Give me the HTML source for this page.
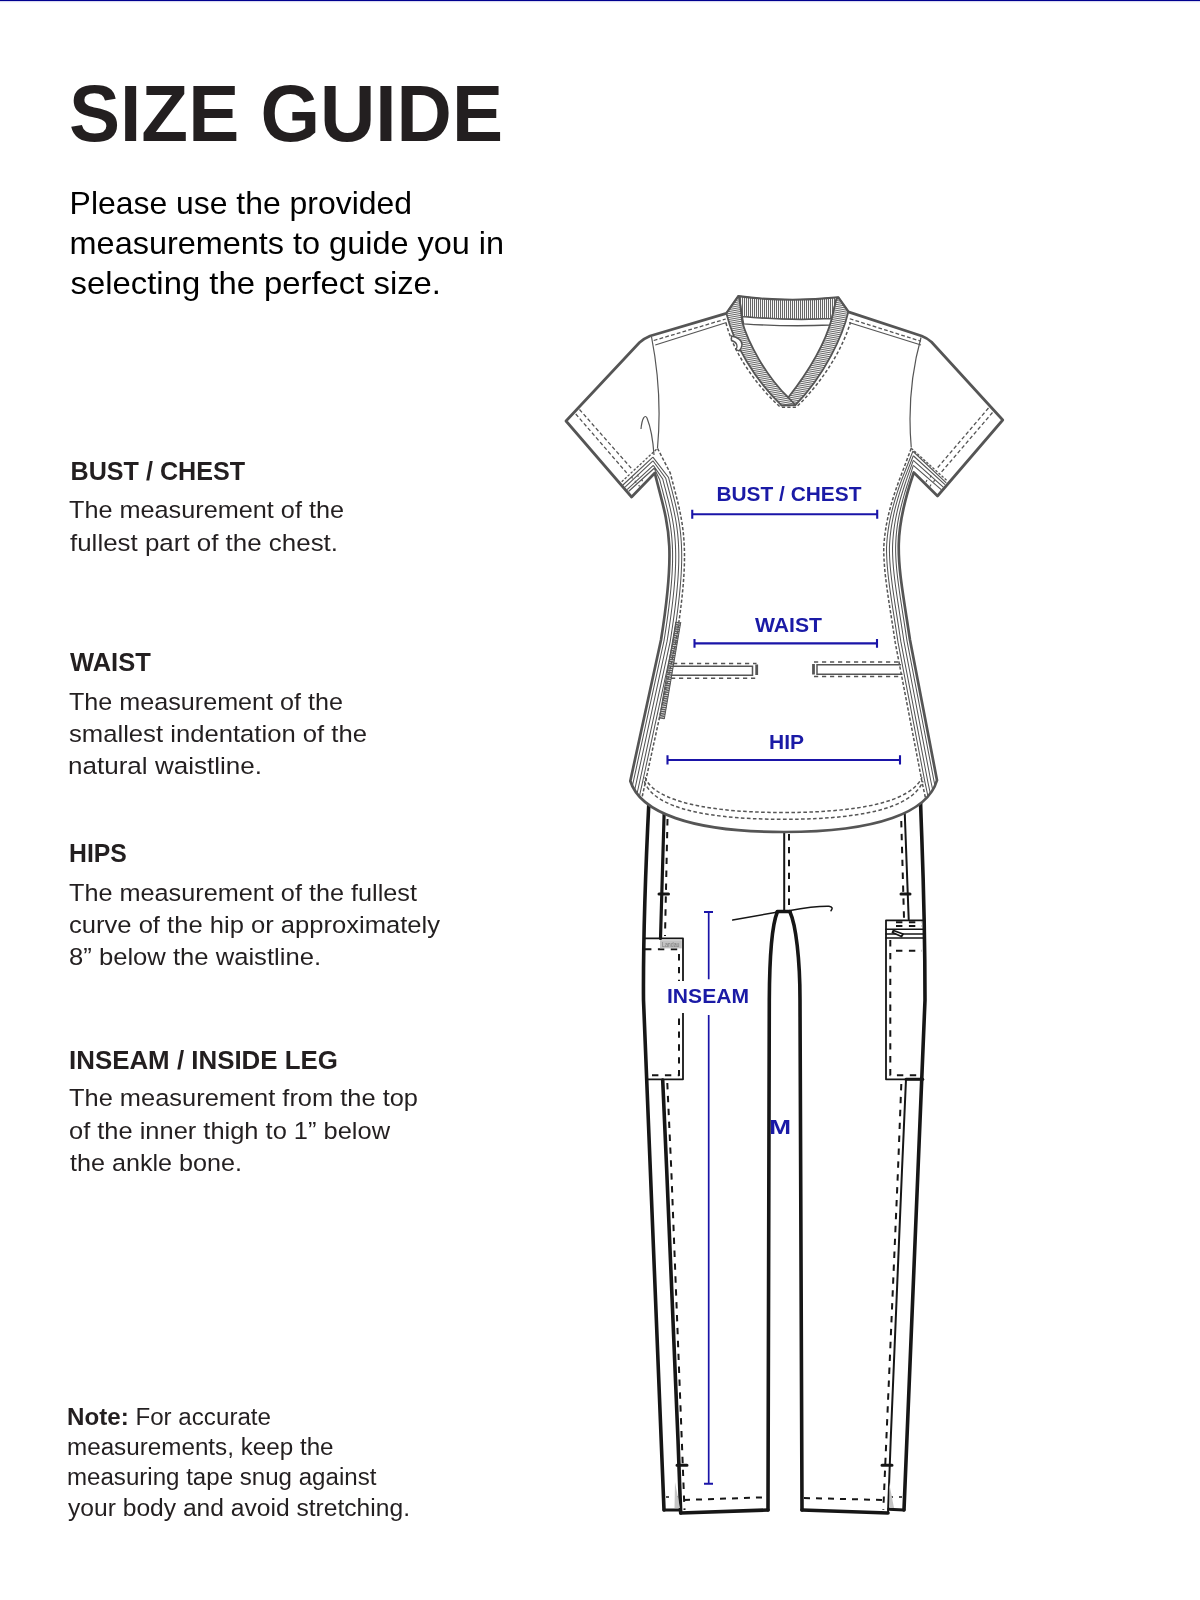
<!DOCTYPE html>
<html><head><meta charset="utf-8"><style>
html,body{margin:0;padding:0;background:#fff;}
body{width:1200px;height:1600px;overflow:hidden;position:relative;}
svg{position:absolute;left:0;top:0;will-change:transform;}
text{font-family:"Liberation Sans", sans-serif;}
</style></head><body>
<svg width="1200" height="1600" viewBox="0 0 1200 1600">
<rect x="0" y="0" width="1200" height="1.2" fill="#00008f"/>
<rect x="0" y="1.2" width="1200" height="1" fill="#dcdcf2"/>
<g fill="none" stroke="#161616" stroke-linecap="round" stroke-linejoin="round">
<path d="M649,800 C646,860 643,930 643.5,1000 L664,1510" stroke-width="3.6"/>
<path d="M664.5,800 L660.5,938.5" stroke-width="3.2"/>
<path d="M662.7,1080 L666.7,1170 L678,1440 L680.7,1513" stroke-width="3.6"/>
<path d="M667.5,819 L665,936" stroke-width="2" stroke-dasharray="6.4,6.5" stroke-linecap="butt"/>
<path d="M667.3,1083 L671.3,1170 L684.5,1510" stroke-width="2" stroke-dasharray="6.4,6.5" stroke-linecap="butt"/>
<path d="M644,938.4 L683,938.4 L683,1079.3 L647.3,1079.3" stroke-width="1.8"/>
<path d="M645,949.3 L679,949.3 L679,1075.3 L648,1075.3" stroke-width="2" stroke-dasharray="6.4,6.5" stroke-linecap="butt"/>
<path d="M659,894 L668.5,894 M677,1465.3 L687,1465.3 M901,894 L910,894 M882,1465.3 L892,1465.3" stroke-width="3"/>
<path d="M664,1510 L680,1510" stroke-width="3"/>
<path d="M680.7,1513 L768,1510" stroke-width="3.6"/>
<path d="M684,1500 L765,1497.3" stroke-width="2" stroke-dasharray="6,6" stroke-linecap="butt"/>
<path d="M666,1497 L678,1497" stroke-width="1.6" stroke-dasharray="3,6" stroke-linecap="butt"/>
<path d="M777.3,912 C772,925 769.5,960 769.3,1000 L768,1510" stroke-width="3.6"/>
<path d="M790,912 C796,925 800,960 800,1000 L802,1510" stroke-width="3.6"/>
<path d="M777.3,911.5 L790,911.5" stroke-width="3.6"/>
<path d="M732.7,920 L778,912 L788.7,910.7 Q815,906 829,906.3 Q834,907 831,910.7" stroke-width="1.5"/>
<path d="M784.2,830 L784.2,911" stroke-width="2"/>
<path d="M789,834 L789,909" stroke-width="2" stroke-dasharray="6.4,6.5" stroke-linecap="butt"/>
<path d="M920.5,800 C922,850 925,900 925,1000 L904,1510" stroke-width="3.6"/>
<path d="M904.7,812 L908.7,919.3" stroke-width="2"/>
<path d="M906,1079.3 L902,1170 L890.7,1440 L888,1513" stroke-width="2"/>
<path d="M901.25,821 L904,918" stroke-width="2" stroke-dasharray="6.4,6.5" stroke-linecap="butt"/>
<path d="M901.3,1084 L898,1170 L883.3,1510" stroke-width="2" stroke-dasharray="6.4,6.5" stroke-linecap="butt"/>
<path d="M924,920.3 L886,920.3 L886,1079.3 L923,1079.3" stroke-width="1.8"/>
<path d="M886,929.3 L924,929.3 M886,934 L924,934 M886,938 L924,938" stroke-width="1.6"/>
<path d="M896,922.2 L922,922.2 M896,926 L922,926 M896,950.7 L922,950.7 M890.3,940 L890.3,1075.3 L920,1075.3" stroke-width="2" stroke-dasharray="6.4,6.5" stroke-linecap="butt"/>
<path d="M893.5,930.5 L903,934 L901.5,936.5 L892.5,932.5 Z" fill="#fff" stroke-width="1.8"/>
<path d="M906,1079.3 L922.7,1079.3" stroke-width="3"/>
<path d="M802,1510 L888,1513" stroke-width="3.6"/>
<path d="M888.7,1509.3 L904,1510" stroke-width="3"/>
<path d="M804,1498 L885,1500" stroke-width="2" stroke-dasharray="6,6" stroke-linecap="butt"/>
<path d="M890,1497 L903,1497" stroke-width="1.6" stroke-dasharray="3,6" stroke-linecap="butt"/>
</g>
<rect x="660" y="940.2" width="21.8" height="8.2" fill="#c2c2c2"/><text x="662" y="947" font-size="6.5" fill="#777" textLength="17.5" lengthAdjust="spacingAndGlyphs">Landau</text>
<path d="M675,1482 L680,1508 L674.5,1508 Z M889,1482 L890,1508 L894,1508 Z" fill="#c4c4c4"/>
<defs><clipPath id="shc"><path d="M726.4,313.4 L650,336 Q644,338.5 639.5,342.5 L566,421 L631.6,497 L654.8,473 C667.8,525 677,540 661,640 L630.3,781 C640,812 690,832 784,832 C878,832 928,812 937,780.25 L910,640 C898,560 890.75,540 913.75,472.5 L937.5,496 L1002.75,420 L931.5,342 Q927,338 921.75,336 L848.3,311.9 L838.2,297.5 Q788,303 738.3,296.4 Z"/></clipPath>
<pattern id="ribV" width="2" height="10" patternUnits="userSpaceOnUse"><rect width="2" height="10" fill="#fff"/><rect width="1.05" height="10" fill="#666"/></pattern>
<pattern id="ribL" width="10" height="1.95" patternUnits="userSpaceOnUse" patternTransform="rotate(-10)"><rect width="10" height="1.95" fill="#fff"/><rect width="10" height="1.0" fill="#666"/></pattern>
<pattern id="ribR" width="10" height="1.95" patternUnits="userSpaceOnUse" patternTransform="rotate(10)"><rect width="10" height="1.95" fill="#fff"/><rect width="10" height="1.0" fill="#666"/></pattern>
</defs>
<path d="M726.4,313.4 L650,336 Q644,338.5 639.5,342.5 L566,421 L631.6,497 L654.8,473 C667.8,525 677,540 661,640 L630.3,781 C640,812 690,832 784,832 C878,832 928,812 937,780.25 L910,640 C898,560 890.75,540 913.75,472.5 L937.5,496 L1002.75,420 L931.5,342 Q927,338 921.75,336 L848.3,311.9 L838.2,297.5 Q788,303 738.3,296.4 Z" fill="#fff" stroke="none"/>
<g clip-path="url(#shc)" fill="none" stroke="#555">
<path d="M657.50,448.30 L670.30,473.13 L671.24,476.79 L672.17,480.34 L673.07,483.81 L673.96,487.20 L674.84,490.53 L675.69,493.82 L676.52,497.07 L677.32,500.29 L678.10,503.51 L678.85,506.72 L679.56,509.95 L680.24,513.19 L680.88,516.46 L681.48,519.78 L682.03,523.14 L682.53,526.56 L682.98,530.04 L683.38,533.60 L683.72,537.24 L684.00,540.97 L684.22,544.79 L684.38,548.73 L684.47,552.78 L684.50,556.96 L684.45,561.27 L684.34,565.74 L684.16,570.36 L683.90,575.15 L683.57,580.12 L683.16,585.28 L682.68,590.65 L682.12,596.24 L681.47,602.05 L680.75,608.10 L679.94,614.40 L679.04,620.97 L678.05,627.81 L676.98,634.94 L675.72,642.90 L672.59,657.29 L669.52,671.39 L666.45,685.49 L663.38,699.59 L660.31,713.69 L657.24,727.79 L654.17,741.89 L651.10,755.99 L648.03,770.09 L644.95,784.22 L642.39,795.75 L639.84,807.25 L637.29,818.75 L634.74,830.25 L632.19,841.75 L629.64,853.25" stroke-width="1.5" stroke-dasharray="3.3,1.9"/>
<path d="M911.25,448.30 L901.59,474.01 L899.74,478.85 L898.00,483.55 L896.37,488.12 L894.85,492.58 L893.44,496.93 L892.13,501.18 L890.92,505.35 L889.81,509.44 L888.80,513.46 L887.88,517.43 L887.06,521.35 L886.32,525.23 L885.68,529.07 L885.12,532.89 L884.65,536.69 L884.26,540.48 L883.95,544.26 L883.72,548.05 L883.75,551.84 L883.86,555.64 L884.03,559.46 L884.27,563.30 L884.56,567.17 L884.92,571.09 L885.33,575.06 L885.78,579.09 L886.29,583.20 L886.84,587.39 L887.44,591.67 L888.07,596.06 L888.74,600.57 L889.45,605.21 L890.18,609.99 L890.95,614.92 L891.75,620.01 L892.57,625.27 L893.41,630.72 L894.28,636.37 L895.24,642.66 L897.97,656.86 L900.67,670.89 L903.37,684.91 L906.07,698.94 L908.77,712.96 L911.47,726.99 L914.17,741.01 L916.87,755.04 L919.57,769.06 L922.30,783.23 L924.84,795.03 L927.34,806.65 L929.84,818.28 L932.34,829.90 L934.84,841.53 L937.34,853.15" stroke-width="1.5" stroke-dasharray="3.3,1.9"/>
<path d="M654.20,468.30 L659.72,479.76 L660.65,483.34 L661.56,486.83 L662.45,490.22 L663.32,493.53 L664.16,496.78 L664.98,499.98 L665.76,503.13 L666.52,506.25 L667.24,509.36 L667.93,512.45 L668.57,515.55 L669.18,518.66 L669.75,521.80 L670.27,524.97 L670.74,528.19 L671.17,531.47 L671.54,534.81 L671.86,538.24 L672.13,541.75 L672.34,545.37 L672.49,549.10 L672.57,552.95 L672.60,556.93 L672.56,561.06 L672.45,565.35 L672.27,569.80 L672.02,574.43 L671.70,579.26 L671.31,584.28 L670.83,589.52 L670.28,594.98 L669.65,600.68 L668.94,606.63 L668.14,612.84 L667.25,619.31 L666.28,626.07 L665.22,633.13 L664.04,640.60 L660.96,654.76 L657.89,668.86 L654.82,682.96 L651.75,697.06 L648.68,711.16 L645.61,725.26 L642.54,739.36 L639.47,753.46 L636.40,767.56 L633.33,781.66 L630.78,793.17 L628.23,804.67 L625.68,816.17 L623.13,827.67 L620.58,839.17 L618.03,850.67 M653.30,465.40 L662.72,478.99 L663.65,482.56 L664.56,486.04 L665.45,489.43 L666.32,492.75 L667.17,496.01 L667.98,499.22 L668.78,502.39 L669.54,505.54 L670.26,508.67 L670.96,511.80 L671.61,514.93 L672.23,518.09 L672.80,521.27 L673.33,524.49 L673.81,527.77 L674.25,531.10 L674.63,534.50 L674.95,537.98 L675.22,541.55 L675.43,545.22 L675.58,549.00 L675.67,552.90 L675.70,556.94 L675.66,561.12 L675.55,565.45 L675.37,569.95 L675.12,574.62 L674.79,579.48 L674.39,584.54 L673.92,589.81 L673.36,595.31 L672.73,601.04 L672.01,607.01 L671.21,613.24 L670.32,619.74 L669.35,626.53 L668.28,633.60 L667.08,641.20 L663.99,655.42 L660.92,669.52 L657.85,683.62 L654.78,697.72 L651.71,711.82 L648.64,725.92 L645.57,740.02 L642.50,754.12 L639.43,768.22 L636.36,782.33 L633.80,793.84 L631.25,805.34 L628.70,816.84 L626.15,828.34 L623.60,839.84 L621.05,851.34 M652.90,460.80 L665.72,478.21 L666.65,481.78 L667.56,485.25 L668.45,488.65 L669.32,491.97 L670.17,495.24 L670.99,498.46 L671.79,501.65 L672.55,504.82 L673.29,507.98 L673.99,511.15 L674.65,514.32 L675.28,517.52 L675.86,520.75 L676.40,524.02 L676.89,527.34 L677.32,530.73 L677.71,534.18 L678.04,537.72 L678.32,541.34 L678.53,545.07 L678.68,548.90 L678.77,552.86 L678.80,556.95 L678.76,561.17 L678.64,565.55 L678.46,570.09 L678.21,574.81 L677.88,579.71 L677.48,584.80 L677.00,590.11 L676.45,595.64 L675.81,601.39 L675.09,607.39 L674.28,613.65 L673.39,620.18 L672.41,626.98 L671.34,634.07 L670.12,641.80 L667.02,656.08 L663.95,670.18 L660.88,684.28 L657.81,698.38 L654.74,712.48 L651.67,726.58 L648.60,740.68 L645.53,754.78 L642.46,768.88 L639.38,782.99 L636.83,794.51 L634.28,806.01 L631.73,817.51 L629.18,829.01 L626.63,840.51 L624.08,852.01 M652.90,457.10 L668.53,477.49 L669.46,481.05 L670.37,484.52 L671.26,487.91 L672.13,491.24 L672.98,494.52 L673.80,497.75 L674.60,500.96 L675.37,504.15 L676.11,507.34 L676.82,510.54 L677.49,513.74 L678.13,516.98 L678.72,520.25 L679.26,523.57 L679.76,526.94 L680.20,530.38 L680.60,533.88 L680.93,537.47 L681.21,541.15 L681.43,544.93 L681.58,548.81 L681.67,552.82 L681.70,556.95 L681.65,561.22 L681.54,565.64 L681.36,570.23 L681.11,574.98 L680.78,579.92 L680.37,585.05 L679.89,590.39 L679.33,595.94 L678.69,601.73 L677.97,607.75 L677.16,614.03 L676.27,620.58 L675.28,627.40 L674.21,634.51 L672.97,642.36 L669.85,656.70 L666.78,670.80 L663.71,684.90 L660.64,699.00 L657.57,713.10 L654.50,727.20 L651.43,741.30 L648.36,755.40 L645.29,769.50 L642.22,783.62 L639.66,795.14 L637.11,806.64 L634.56,818.14 L632.01,829.64 L629.46,841.14 L626.91,852.64 M913.30,465.40 L908.29,481.57 L906.79,486.23 L905.38,490.75 L904.09,495.13 L902.89,499.39 L901.80,503.54 L900.80,507.58 L899.90,511.53 L899.09,515.40 L898.37,519.19 L897.74,522.92 L897.20,526.59 L896.74,530.23 L896.36,533.82 L896.06,537.40 L895.84,540.95 L895.69,544.50 L895.62,548.06 L895.65,551.62 L895.75,555.20 L895.91,558.82 L896.14,562.47 L896.42,566.18 L896.76,569.94 L897.16,573.77 L897.60,577.69 L898.10,581.69 L898.64,585.79 L899.22,590.00 L899.84,594.34 L900.51,598.80 L901.21,603.41 L901.94,608.16 L902.71,613.08 L903.51,618.17 L904.33,623.44 L905.18,628.91 L906.04,634.58 L906.95,640.55 L909.66,654.61 L912.36,668.64 L915.06,682.66 L917.76,696.69 L920.46,710.71 L923.16,724.74 L925.86,738.76 L928.56,752.79 L931.26,766.81 L933.96,780.87 L936.47,792.53 L938.97,804.15 L941.47,815.78 L943.97,827.40 L946.47,839.03 L948.97,850.65 M913.30,460.40 L906.06,480.86 L904.50,485.53 L903.04,490.07 L901.68,494.47 L900.43,498.75 L899.28,502.92 L898.23,507.00 L897.27,510.98 L896.41,514.89 L895.64,518.73 L894.96,522.51 L894.37,526.24 L893.86,529.93 L893.43,533.58 L893.09,537.21 L892.82,540.83 L892.63,544.44 L892.52,548.05 L892.55,551.68 L892.65,555.32 L892.82,558.99 L893.05,562.69 L893.33,566.44 L893.68,570.24 L894.08,574.11 L894.52,578.05 L895.02,582.08 L895.56,586.21 L896.15,590.44 L896.78,594.79 L897.44,599.26 L898.14,603.88 L898.88,608.64 L899.65,613.56 L900.44,618.65 L901.26,623.92 L902.11,629.38 L902.98,635.04 L903.90,641.10 L906.61,655.20 L909.31,669.22 L912.01,683.25 L914.71,697.27 L917.41,711.30 L920.11,725.32 L922.81,739.35 L925.51,753.37 L928.21,767.40 L930.92,781.48 L933.44,793.18 L935.94,804.80 L938.44,816.43 L940.94,828.05 L943.44,839.68 L945.94,851.30 M913.30,455.80 L903.84,480.16 L902.21,484.84 L900.69,489.38 L899.28,493.80 L897.97,498.11 L896.76,502.31 L895.65,506.42 L894.64,510.44 L893.73,514.39 L892.91,518.27 L892.18,522.10 L891.53,525.88 L890.98,529.62 L890.51,533.34 L890.12,537.03 L889.81,540.71 L889.57,544.38 L889.42,548.05 L889.45,551.73 L889.55,555.43 L889.72,559.15 L889.95,562.90 L890.24,566.69 L890.59,570.54 L890.99,574.44 L891.45,578.42 L891.95,582.47 L892.49,586.62 L893.08,590.87 L893.71,595.24 L894.38,599.72 L895.08,604.35 L895.82,609.11 L896.58,614.04 L897.38,619.13 L898.20,624.40 L899.05,629.85 L899.92,635.51 L900.85,641.65 L903.57,655.78 L906.27,669.81 L908.97,683.83 L911.67,697.86 L914.37,711.88 L917.07,725.91 L919.77,739.93 L922.47,753.96 L925.17,767.98 L927.89,782.10 L930.41,793.83 L932.91,805.46 L935.41,817.08 L937.91,828.71 L940.41,840.33 L942.91,851.96 M912.90,451.25 L901.75,479.49 L900.07,484.18 L898.49,488.74 L897.03,493.18 L895.66,497.51 L894.40,501.74 L893.25,505.87 L892.18,509.93 L891.22,513.92 L890.35,517.84 L889.57,521.72 L888.88,525.55 L888.28,529.34 L887.77,533.11 L887.33,536.86 L886.98,540.59 L886.71,544.32 L886.52,548.05 L886.55,551.79 L886.66,555.54 L886.83,559.31 L887.06,563.10 L887.35,566.94 L887.71,570.82 L888.11,574.75 L888.57,578.76 L889.07,582.84 L889.62,587.01 L890.21,591.28 L890.84,595.66 L891.51,600.15 L892.21,604.78 L892.95,609.56 L893.72,614.48 L894.51,619.57 L895.34,624.84 L896.18,630.30 L897.05,635.95 L897.99,642.16 L900.72,656.33 L903.42,670.36 L906.12,684.38 L908.82,698.41 L911.52,712.43 L914.22,726.46 L916.92,740.48 L919.62,754.51 L922.32,768.53 L925.04,782.67 L927.57,794.44 L930.07,806.07 L932.57,817.69 L935.07,829.32 L937.57,840.94 L940.07,852.57" stroke-width="1.05"/>
<path d="M645,777.3 C652,796 690,812.5 784,812.5 C878,812.5 914,796 922,777.3" stroke-width="1.5" stroke-dasharray="3.6,2.4"/>
<path d="M644.3,781.3 C652,803 690,819.3 784,819.3 C878,819.3 914,803 923,781.3" stroke-width="1.5" stroke-dasharray="3.6,2.4"/>
<path d="M678.3,622 L661.8,719" stroke="#5c5c5c" stroke-width="5" stroke-dasharray="1.5,0.7"/>
<path d="M680.8,622 L664.3,719 M675.8,622 L659.3,719" stroke="#555" stroke-width="1"/>
</g>
<path d="M726.4,313.4 L650,336 Q644,338.5 639.5,342.5 L566,421 L631.6,497 L654.8,473 C667.8,525 677,540 661,640 L630.3,781 C640,812 690,832 784,832 C878,832 928,812 937,780.25 L910,640 C898,560 890.75,540 913.75,472.5 L937.5,496 L1002.75,420 L931.5,342 Q927,338 921.75,336 L848.3,311.9 L838.2,297.5 Q788,303 738.3,296.4 Z" fill="none" stroke="#555" stroke-width="2.7" stroke-linejoin="round"/>
<path d="M738.3,296.4 Q788,303 838.2,297.5 L836.1,300 L831.8,318.7 Q788,321 742.3,316.6 L739.4,298.6 Z" fill="url(#ribV)" stroke="#555" stroke-width="1.7" stroke-linejoin="round"/>
<path d="M742.3,316.6 Q788,321 831.8,318.7 L830.3,325 Q788,327 743.7,323.8 Z" fill="#fff" stroke="#555" stroke-width="1.3"/>
<path d="M848.3,311.9 C843,335 825,375 795.4,405 L781.5,405.4 L788.25,397.5 C812,367 826,340 831.8,318.7 L836.1,300 L838.2,297.5 Z" fill="url(#ribR)" stroke="#555" stroke-width="1.8" stroke-linejoin="round"/>
<path d="M726.4,313.4 C734,345 755,380 781.5,405.4 L795.4,405 L788.25,397.5 C765,375 748,342 742.3,322.3 L739.4,298.6 L738.3,296.4 Z" fill="url(#ribL)" stroke="#555" stroke-width="1.8" stroke-linejoin="round"/>
<g fill="none" stroke="#555">
<path d="M726,323 C733,350 752,381 779.6,406.5 M781.9,407.3 L797,407.3 M797.6,405.8 C823,381 842,350 850.5,322.3" stroke-width="1.5" stroke-dasharray="3.2,2.2"/>
<path d="M731.5,336 C738,337 742.5,341 742,345 C741.5,348 740,350 739,351 L736,349.5 C738,347 737.5,342 731.5,340.5 Z" fill="#fff" stroke-width="1.4"/>
<path d="M655.25,345 L726.5,322.5 M849,322.5 L921,345" stroke-width="1.2"/>
<path d="M653.75,340.5 L725.75,319 M849.75,318.75 L921,341.25" stroke-width="1.3" stroke-dasharray="3.8,2.2"/>
<path d="M651.5,336.75 C658,370 661,410 657.5,448 M921,337.5 C912,370 908,410 911.25,447.5" stroke-width="1.2"/>
<path d="M641,429 C642,418 645,414 647,418 C651,428 653,440 654,455" stroke-width="1.2"/>
<path d="M575.75,414 L626.7,472.9 M579.5,409.5 L631.7,468.75 M988.5,408 L936.7,468.75 M992.5,412.5 L940.4,473.3" stroke-width="1.3" stroke-dasharray="3.8,2.4"/>
<path d="M622.9,485 L652.9,457.1 M625,487.1 L652.9,460.8 M627.1,489.6 L653.3,465.4 M628.75,491.25 L654.2,468.3" stroke-width="1.15"/>
<path d="M621.7,481.7 L651.7,453.75 L657.5,448.3" stroke-width="1.3" stroke-dasharray="2.5,1.6"/>
<path d="M912.9,451.25 L946.25,482.9 M913.3,455.8 L945,484.6 M913.3,460.4 L943.3,487.1 M913.3,465.4 L941.25,489.6" stroke-width="1.15"/>
<path d="M911.25,448.3 L946.7,480.4" stroke-width="1.3" stroke-dasharray="2.5,1.6"/>
<path d="M631.7,476.7 L632.5,478.5 M637.5,474.6 L638.3,476.7 M635,480.8 L636,483 M641.7,479.6 L642.5,481.3 M638.75,485 L639.5,486.5 M931,475.4 L930.2,477.5 M927,480 L926,482 M934.6,480 L933.6,482 M931,484.5 L930,486.5" stroke-width="1.2"/>
<path d="M672.3,666.25 L752.5,666.25 L752.5,675.25 L671,675.25" stroke-width="1.5"/>
<path d="M673,663.5 L756.5,663.5 M671,678.25 L756.5,678.25" stroke-width="1.4" stroke-dasharray="4.2,3.8"/>
<path d="M756.7,664.5 L756.7,675" stroke-width="2.8"/>
<path d="M901,664.75 L817,664.75 L817,674.2 L902.5,674.2" stroke-width="1.5"/>
<path d="M814,662 L900,662 M814,676.5 L902,676.5" stroke-width="1.4" stroke-dasharray="4.2,3.8"/>
<path d="M813.5,664 L813.5,674.5" stroke-width="2.8"/>
</g>
<g stroke="#1a14a8" fill="none">
<path d="M692.25,514.3 L877.2,514.3 M694.5,643.4 L877,643.4 M667.5,760 L900,760" stroke-width="2.1"/>
<path d="M692.25,509.8 L692.25,518.8 M877.2,509.8 L877.2,518.8 M694.5,639 L694.5,647.8 M877,639 L877,647.8 M667.5,755.3 L667.5,764.4 M900,755.3 L900,764.4" stroke-width="2.1"/>
<path d="M708.7,912 L708.7,979.3 M708.7,1015 L708.7,1483.7" stroke-width="1.7"/>
<path d="M704,912 L713,912 M704,1483.7 L713,1483.7" stroke-width="1.9"/>
</g>
<rect x="664" y="981" width="88" height="32" fill="#fff"/>
<text x="69.00" y="140.50" font-weight="700" font-size="80" fill="#231f20" textLength="434.00" lengthAdjust="spacingAndGlyphs">SIZE GUIDE</text>
<text x="69.60" y="214.00" font-weight="400" font-size="32" fill="#000" textLength="342.40" lengthAdjust="spacingAndGlyphs">Please use the provided</text>
<text x="69.60" y="254.00" font-weight="400" font-size="32" fill="#000" textLength="434.40" lengthAdjust="spacingAndGlyphs">measurements to guide you in</text>
<text x="70.60" y="294.00" font-weight="400" font-size="32" fill="#000" textLength="370.40" lengthAdjust="spacingAndGlyphs">selecting the perfect size.</text>
<text x="70.60" y="480.30" font-weight="700" font-size="25" fill="#231f20" textLength="174.40" lengthAdjust="spacingAndGlyphs">BUST / CHEST</text>
<text x="69.00" y="518.00" font-weight="400" font-size="24.5" fill="#231f20" textLength="275.00" lengthAdjust="spacingAndGlyphs">The measurement of the</text>
<text x="70.00" y="550.50" font-weight="400" font-size="24.5" fill="#231f20" textLength="268.00" lengthAdjust="spacingAndGlyphs">fullest part of the chest.</text>
<text x="70.00" y="671.30" font-weight="700" font-size="25" fill="#231f20" textLength="80.80" lengthAdjust="spacingAndGlyphs">WAIST</text>
<text x="69.00" y="709.50" font-weight="400" font-size="24.5" fill="#231f20" textLength="274.00" lengthAdjust="spacingAndGlyphs">The measurement of the</text>
<text x="69.00" y="741.50" font-weight="400" font-size="24.5" fill="#231f20" textLength="298.00" lengthAdjust="spacingAndGlyphs">smallest indentation of the</text>
<text x="68.00" y="773.50" font-weight="400" font-size="24.5" fill="#231f20" textLength="194.00" lengthAdjust="spacingAndGlyphs">natural waistline.</text>
<text x="69.00" y="862.30" font-weight="700" font-size="25" fill="#231f20" textLength="57.80" lengthAdjust="spacingAndGlyphs">HIPS</text>
<text x="69.00" y="900.50" font-weight="400" font-size="24.5" fill="#231f20" textLength="348.00" lengthAdjust="spacingAndGlyphs">The measurement of the fullest</text>
<text x="69.00" y="932.50" font-weight="400" font-size="24.5" fill="#231f20" textLength="371.00" lengthAdjust="spacingAndGlyphs">curve of the hip or approximately</text>
<text x="69.00" y="965.00" font-weight="400" font-size="24.5" fill="#231f20" textLength="252.00" lengthAdjust="spacingAndGlyphs">8” below the waistline.</text>
<text x="69.00" y="1068.50" font-weight="700" font-size="25" fill="#231f20" textLength="269.00" lengthAdjust="spacingAndGlyphs">INSEAM / INSIDE LEG</text>
<text x="69.00" y="1106.00" font-weight="400" font-size="24.5" fill="#231f20" textLength="349.00" lengthAdjust="spacingAndGlyphs">The measurement from the top</text>
<text x="69.00" y="1138.50" font-weight="400" font-size="24.5" fill="#231f20" textLength="321.00" lengthAdjust="spacingAndGlyphs">of the inner thigh to 1” below</text>
<text x="70.00" y="1170.50" font-weight="400" font-size="24.5" fill="#231f20" textLength="172.00" lengthAdjust="spacingAndGlyphs">the ankle bone.</text>
<text x="67.00" y="1425.00" font-weight="400" font-size="23" fill="#231f20" textLength="204.00" lengthAdjust="spacingAndGlyphs"><tspan font-weight="700">Note:</tspan> For accurate</text>
<text x="67.00" y="1455.30" font-weight="400" font-size="23" fill="#231f20" textLength="266.60" lengthAdjust="spacingAndGlyphs">measurements, keep the</text>
<text x="67.00" y="1485.30" font-weight="400" font-size="23" fill="#231f20" textLength="309.40" lengthAdjust="spacingAndGlyphs">measuring tape snug against</text>
<text x="68.00" y="1515.50" font-weight="400" font-size="23" fill="#231f20" textLength="342.00" lengthAdjust="spacingAndGlyphs">your body and avoid stretching.</text>
<text x="716.40" y="501.20" font-weight="700" font-size="21" fill="#1a1aa6" textLength="145.00" lengthAdjust="spacingAndGlyphs">BUST / CHEST</text>
<text x="755.00" y="631.50" font-weight="700" font-size="21" fill="#1a1aa6" textLength="67.00" lengthAdjust="spacingAndGlyphs">WAIST</text>
<text x="769.00" y="749.20" font-weight="700" font-size="21" fill="#1a1aa6" textLength="35.00" lengthAdjust="spacingAndGlyphs">HIP</text>
<text x="667.00" y="1003.30" font-weight="700" font-size="20.5" fill="#1a1aa6" textLength="82.00" lengthAdjust="spacingAndGlyphs">INSEAM</text>
<text x="769.20" y="1134.00" font-weight="700" font-size="20.5" fill="#1a1aa6" textLength="21.80" lengthAdjust="spacingAndGlyphs">M</text>
</svg>
</body></html>
